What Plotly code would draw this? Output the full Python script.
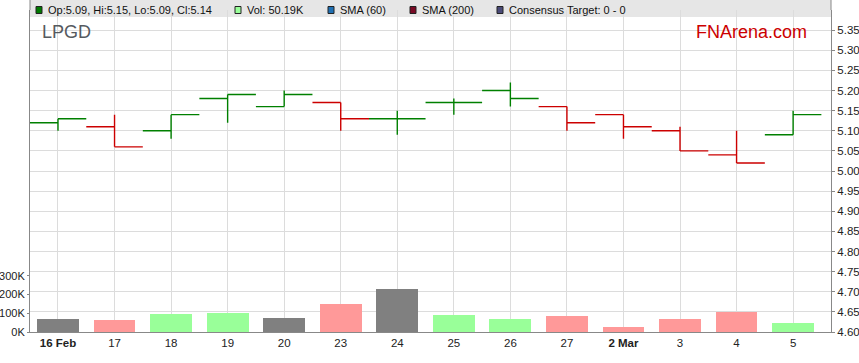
import plotly.graph_objects as go

# ---- data ----
dates = ["16 Feb", "17", "18", "19", "20", "23", "24", "25", "26", "27", "2 Mar", "3", "4", "5"]
bold_dates = ["16 Feb", "2 Mar"]
opens = [5.12, 5.11, 5.10, 5.18, 5.16, 5.17, 5.13, 5.17, 5.20, 5.16, 5.14, 5.10, 5.04, 5.09]
highs = [5.13, 5.14, 5.14, 5.19, 5.20, 5.17, 5.15, 5.18, 5.22, 5.16, 5.14, 5.11, 5.10, 5.15]
lows = [5.10, 5.06, 5.08, 5.12, 5.16, 5.10, 5.09, 5.14, 5.16, 5.10, 5.08, 5.05, 5.02, 5.09]
closes = [5.13, 5.06, 5.14, 5.19, 5.19, 5.13, 5.13, 5.17, 5.18, 5.12, 5.11, 5.05, 5.02, 5.14]
volumes = [70000, 64000, 96000, 103000, 77000, 150000, 230000, 91000, 71000, 86000, 29000, 71000, 107000, 50190]
price_ticks = [4.60, 4.65, 4.70, 4.75, 4.80, 4.85, 4.90, 4.95, 5.00, 5.05, 5.10, 5.15, 5.20, 5.25, 5.30, 5.35]
vol_ticks = [0, 100000, 200000, 300000]
vol_tick_labels = ["0K", "100K", "200K", "300K"]
ticker = "LPGD"
brand = "FNArena.com"
legend_items = [
    ("Op:5.09, Hi:5.15, Lo:5.09, Cl:5.14", "#007a00"),
    ("Vol: 50.19K", "#99ff99"),
    ("SMA (60)", "#1f6fb2"),
    ("SMA (200)", "#7a0a25"),
    ("Consensus Target: 0 - 0", "#4a4a78"),
]

GREEN = "#008000"
RED = "#cc0000"
idx = list(range(len(dates)))

# direction by close vs previous close
up_idx, dn_idx, vol_colors = [], [], []
for i in idx:
    prev = closes[i - 1] if i > 0 else None
    ref = prev if prev is not None else opens[i]
    if closes[i] >= ref:
        up_idx.append(i)
    else:
        dn_idx.append(i)
    if prev is None or closes[i] == prev:
        vol_colors.append("#808080")
    elif closes[i] > prev:
        vol_colors.append("#99ff99")
    else:
        vol_colors.append("#ff9999")

fig = go.Figure()
fig.add_trace(go.Bar(x=idx, y=volumes, yaxis="y2", marker=dict(color=vol_colors, line=dict(width=0)),
                     width=0.74, showlegend=False, hoverinfo="skip"))


def ohlc_trace(sel, color):
    return go.Ohlc(
        x=[idx[i] for i in sel], open=[opens[i] for i in sel], high=[highs[i] for i in sel],
        low=[lows[i] for i in sel], close=[closes[i] for i in sel],
        increasing=dict(line=dict(color=color, width=1.4)),
        decreasing=dict(line=dict(color=color, width=1.4)),
        tickwidth=0.5, showlegend=False, yaxis="y", hoverinfo="skip")


fig.add_trace(ohlc_trace(up_idx, GREEN))
fig.add_trace(ohlc_trace(dn_idx, RED))

ticktext = [f"<b>{d}</b>" if d in bold_dates else d for d in dates]

W, H = 859, 363
ML, MR, MT, MB = 30, 28, 10, 31
PW, PH = W - ML - MR, H - MT - MB


def px_x(px):
    return (px - ML) / PW


def px_y(py):
    return 1 - (py - MT) / PH


shapes = [
    dict(type="rect", xref="paper", yref="paper", x0=0, x1=1, y0=px_y(17), y1=px_y(0),
         fillcolor="#e6e6e6", line=dict(width=0), layer="below"),
    dict(type="line", xref="paper", yref="paper", x0=0, x1=0, y0=1, y1=px_y(0),
         line=dict(color="#888888", width=1)),
    dict(type="line", xref="paper", yref="paper", x0=1, x1=1, y0=1, y1=px_y(0),
         line=dict(color="#888888", width=1)),
]
annotations = []
legend_x = [36, 235, 328, 410, 497]
for (label, col), lx in zip(legend_items, legend_x):
    shapes.append(dict(type="rect", xref="paper", yref="paper", x0=px_x(lx), x1=px_x(lx + 6),
                       y0=px_y(13.5), y1=px_y(6.5), fillcolor=col,
                       line=dict(color="#222222", width=1)))
    annotations.append(dict(text=label, xref="paper", yref="paper", x=px_x(lx + 10), y=px_y(10),
                            xanchor="left", yanchor="middle", showarrow=False,
                            font=dict(family="Arial, Liberation Sans", size=11, color="#111111")))

annotations.append(dict(text=ticker, xref="paper", yref="paper", x=px_x(40), y=px_y(32),
                        xanchor="left", yanchor="middle", showarrow=False,
                        font=dict(family="Arial, Liberation Sans", size=18, color="#555a60")))
annotations.append(dict(text=brand, xref="paper", yref="paper", x=px_x(809), y=px_y(32),
                        xanchor="right", yanchor="middle", showarrow=False,
                        font=dict(family="Arial, Liberation Sans", size=18, color="#cc0000")))

fig.update_layout(
    width=W, height=H,
    margin=dict(l=ML, r=MR, t=MT, b=MB, pad=0, autoexpand=False),
    paper_bgcolor="white", plot_bgcolor="white",
    font=dict(family="Arial, Liberation Sans", size=11, color="#222222"),
    bargap=0,
    xaxis=dict(range=[-0.495, 13.67], tickmode="array", tickvals=idx, ticktext=ticktext,
               showgrid=True, gridcolor="#dcdcdc", gridwidth=1, zeroline=False, automargin=False,
               showline=True, linecolor="#888888", ticks="", rangeslider=dict(visible=False),
               tickfont=dict(size=11.5, color="#222222")),
    yaxis=dict(side="right", range=[4.6, 5.4], tickmode="array", tickvals=price_ticks,
               ticktext=[f"{v:.2f}" for v in price_ticks], automargin=False,
               showgrid=True, gridcolor="#dcdcdc", gridwidth=1, zeroline=False,
               showline=True, linecolor="#888888", ticks="outside", ticklen=3, tickcolor="#888888",
               tickfont=dict(size=11.5, color="#222222")),
    yaxis2=dict(overlaying="y", side="left", range=[0, 1720000], tickmode="array", automargin=False,
                tickvals=vol_ticks, ticktext=vol_tick_labels, showgrid=False, zeroline=False,
                showline=True, linecolor="#888888", ticks="outside", ticklen=2, tickcolor="#888888",
                tickfont=dict(size=11, color="#222222")),
    shapes=shapes, annotations=annotations, showlegend=False,
)

fig.write_html("out.html", config={"displayModeBar": False},
               post_script="document.body.style.margin='0px';")
